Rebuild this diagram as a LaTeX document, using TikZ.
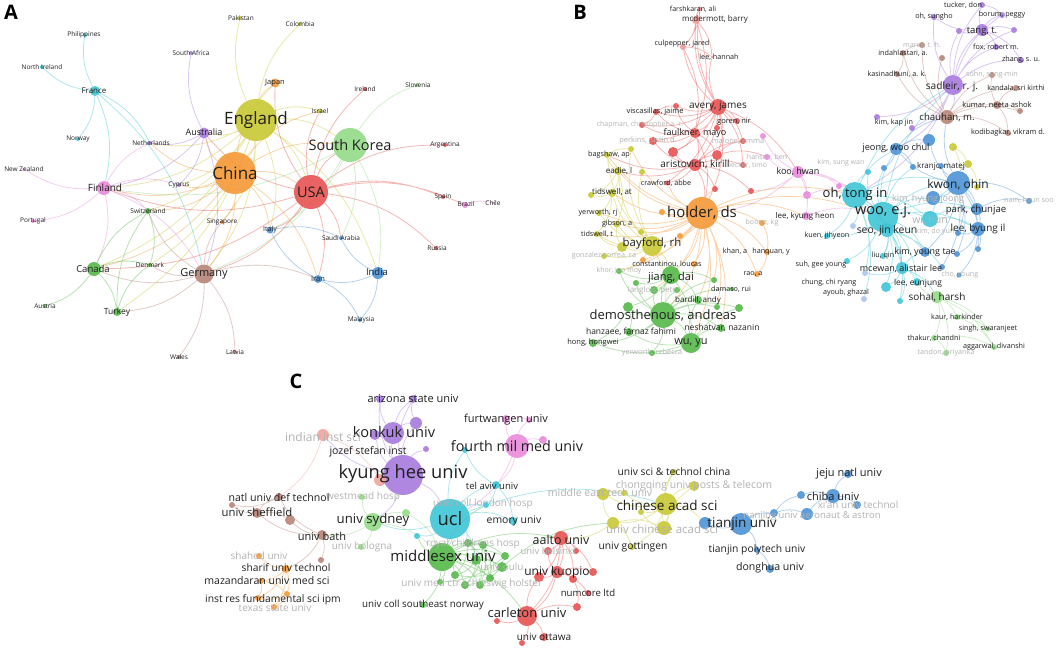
\documentclass[tikz,border=0pt]{standalone}
\usepackage{fontspec}
\setmainfont{Open Sans}
\usepackage{tikz}
\definecolor{cred}{RGB}{232,82,82}
\definecolor{cgreen}{RGB}{84,184,72}
\definecolor{cblue}{RGB}{74,146,214}
\definecolor{colive}{RGB}{200,200,52}
\definecolor{cpurple}{RGB}{166,122,222}
\definecolor{ccyan}{RGB}{62,196,214}
\definecolor{corange}{RGB}{245,152,54}
\definecolor{cbrown}{RGB}{182,132,118}
\definecolor{cpink}{RGB}{232,138,218}
\definecolor{clgreen}{RGB}{148,218,134}
\definecolor{csalmon}{RGB}{242,164,158}
\definecolor{clblue}{RGB}{172,196,236}
\newcommand{\fsz}[1]{\fontsize{#1}{#1}\selectfont}
\pgfdeclarelayer{edges}
\pgfdeclarelayer{labels}
\pgfsetlayers{edges,main,labels}
\tikzset{dot/.style={circle,inner sep=0pt,draw=none,fill=#1,fill opacity=.9},
         lbl/.style={inner sep=0pt,text=black!88},
         faded/.style={inner sep=0pt,text=black!30},
         link/.style={draw=#1,draw opacity=.42,line width=.8pt,bend left=18},
         panel/.style={inner sep=0pt,font=\bfseries\fsz{20}}}

\begin{document}
\begin{tikzpicture}[x=1pt,y=-1pt]
  \useasboundingbox (0,0) rectangle (1059,648);
  % Panel letters
  \node[panel] (pa) at (11,12) {A};
  \node[panel] (pb) at (580,12) {B};
  \node[panel] (pc) at (296,381) {C};

  % ===== A: countries
  \node[dot=colive,minimum size=42pt] (eng) at (256,120) {};
  \node[dot=corange,minimum size=42pt] (chn) at (235,173) {};
  \node[dot=cred,minimum size=34pt] (usa) at (311,192) {};
  \node[dot=clgreen,minimum size=34pt] (kor) at (350,145) {};
  \node[dot=cbrown,minimum size=19pt] (ger) at (204,274) {};
  \node[dot=cpink,minimum size=14pt] (fin) at (104,188) {};
  \node[dot=cgreen,minimum size=14pt] (can) at (94,269) {};
  \node[dot=ccyan,minimum size=10pt] (fra) at (95,91) {};
  \node[dot=cpurple,minimum size=11pt] (aus) at (204,133) {};
  \node[dot=cblue,minimum size=12pt] (ind) at (378,273) {};
  \node[dot=cgreen,minimum size=8pt] (tur) at (117,312) {};
  \node[dot=corange,minimum size=9pt] (jpn) at (275,83) {};
  \node[dot=cblue,minimum size=8pt] (irn) at (318,279) {};
  \node[dot=cblue,minimum size=7pt] (ita) at (270,230) {};
  \node[dot=ccyan,minimum size=4pt] (phl) at (85,35) {};
  \node[dot=ccyan,minimum size=4pt] (nir) at (42,67) {};
  \node[dot=cpurple,minimum size=4pt] (zaf) at (191,53) {};
  \node[dot=ccyan,minimum size=4pt] (nor) at (78,139) {};
  \node[dot=cpurple,minimum size=4pt] (nld) at (150,143) {};
  \node[dot=cpink,minimum size=3pt] (nzl) at (24,169) {};
  \node[dot=cpurple,minimum size=4pt] (cyp) at (179,185) {};
  \node[dot=cgreen,minimum size=6pt] (che) at (148,211) {};
  \node[dot=cpink,minimum size=4pt] (prt) at (33,221) {};
  \node[dot=corange,minimum size=4pt] (sgp) at (222,222) {};
  \node[dot=cgreen,minimum size=4pt] (dnk) at (150,265) {};
  \node[dot=cgreen,minimum size=4pt] (aut) at (45,306) {};
  \node[dot=cbrown,minimum size=4pt] (wal) at (179,357) {};
  \node[dot=cbrown,minimum size=4pt] (lva) at (235,352) {};
  \node[dot=colive,minimum size=4pt] (pak) at (240,18) {};
  \node[dot=colive,minimum size=4pt] (col) at (300,24) {};
  \node[dot=colive,minimum size=5pt] (isr) at (320,111) {};
  \node[dot=cred,minimum size=4pt] (irl) at (365,89) {};
  \node[dot=clgreen,minimum size=4pt] (svn) at (417,85) {};
  \node[dot=cred,minimum size=4pt] (arg) at (445,145) {};
  \node[dot=cred,minimum size=4pt] (esp) at (443,197) {};
  \node[dot=cpink,minimum size=6pt] (bra) at (465,205) {};
  \node[dot=cpink,minimum size=3pt] (chl) at (493,203) {};
  \node[dot=cred,minimum size=4pt] (rus) at (436,248) {};
  \node[dot=cblue,minimum size=4pt] (sau) at (341,238) {};
  \node[dot=cblue,minimum size=4pt] (mys) at (360,320) {};

  % ===== B: authors
  % red
  \node[dot=cred!60,minimum size=5pt] (fars) at (700,9) {};
  \node[dot=cred!60,minimum size=8pt] (mcde) at (696,20) {};
  \node[dot=cred!60,minimum size=6pt] (culp) at (683,47) {};
  \node[dot=cred!60,minimum size=3pt] (leeh) at (712,57) {};
  \node[dot=cred,minimum size=16pt] (aver) at (718,107) {};
  \node[dot=cred,minimum size=6pt] (r1) at (676,106) {};
  \node[dot=cred,minimum size=6pt] (visc) at (656,112) {};
  \node[dot=cred,minimum size=6pt] (gore) at (737,121) {};
  \node[dot=cred,minimum size=6pt] (r2) at (717,128) {};
  \node[dot=cred,minimum size=6pt] (chap) at (642,125) {};
  \node[dot=cred,minimum size=10pt] (faul) at (695,133) {};
  \node[dot=cred,minimum size=8pt] (perk) at (653,141) {};
  \node[dot=cred,minimum size=6pt] (malo) at (743,141) {};
  \node[dot=cred,minimum size=10pt] (r3) at (673,152) {};
  \node[dot=cred,minimum size=10pt] (r4) at (717,155) {};
  \node[dot=cred,minimum size=12pt] (aris) at (695,165) {};
  \node[dot=cred,minimum size=6pt] (beck) at (743,165) {};
  \node[dot=cred,minimum size=5pt] (craw) at (667,183) {};
  \node[dot=cred,minimum size=6pt] (r5) at (715,189) {};
  \node[dot=cred,minimum size=6pt] (r6) at (751,191) {};
  % pink
  \node[dot=cpink,minimum size=6pt] (hans) at (767,157) {};
  \node[dot=cpink,minimum size=6pt] (pk1) at (763,136) {};
  \node[dot=cpink,minimum size=12pt] (koo) at (798,172) {};
  \node[dot=cpink,minimum size=6pt] (ksw) at (839,186) {};
  \node[dot=cpink,minimum size=8pt] (ksa) at (807,195) {};
  \node[dot=cpink,minimum size=8pt] (leek) at (806,216) {};
  % yellow
  \node[dot=colive,minimum size=6pt] (bags) at (607,155) {};
  \node[dot=colive,minimum size=6pt] (y1) at (631,149) {};
  \node[dot=colive,minimum size=8pt] (eadi) at (618,171) {};
  \node[dot=colive,minimum size=6pt] (y2) at (642,172) {};
  \node[dot=colive,minimum size=8pt] (tids) at (612,193) {};
  \node[dot=colive,minimum size=6pt] (y3) at (591,195) {};
  \node[dot=colive,minimum size=6pt] (yerw) at (599,213) {};
  \node[dot=colive,minimum size=7pt] (gibs) at (617,224) {};
  \node[dot=colive,minimum size=6pt] (y4) at (641,232) {};
  \node[dot=colive,minimum size=6pt] (tidt) at (597,234) {};
  \node[dot=colive,minimum size=20pt] (bayf) at (652,246) {};
  \node[dot=colive,minimum size=10pt] (y5) at (622,247) {};
  \node[dot=colive,minimum size=6pt] (gonz) at (604,256) {};
  % orange
  \node[dot=corange,minimum size=32pt] (hold) at (702,213) {};
  \node[dot=corange,minimum size=6pt] (o1) at (662,212) {};
  \node[dot=corange,minimum size=6pt] (o2) at (680,236) {};
  \node[dot=corange,minimum size=6pt] (cons) at (643,260) {};
  \node[dot=corange,minimum size=6pt] (o3) at (694,264) {};
  \node[dot=corange,minimum size=6pt] (boon) at (762,223) {};
  \node[dot=corange,minimum size=6pt] (hanq) at (767,252) {};
  \node[dot=corange,minimum size=6pt] (rao) at (757,274) {};
  % green
  \node[dot=cgreen,minimum size=6pt] (khor) at (619,271) {};
  \node[dot=cgreen,minimum size=6pt] (g1) at (636,283) {};
  \node[dot=cgreen,minimum size=18pt] (jian) at (671,275) {};
  \node[dot=cgreen,minimum size=8pt] (lang) at (654,290) {};
  \node[dot=cgreen,minimum size=6pt] (g2) at (677,290) {};
  \node[dot=cgreen,minimum size=6pt] (g3) at (714,280) {};
  \node[dot=cgreen,minimum size=4pt] (dama) at (732,289) {};
  \node[dot=cgreen,minimum size=8pt] (bard) at (698,300) {};
  \node[dot=cgreen,minimum size=10pt] (g4) at (628,307) {};
  \node[dot=cgreen,minimum size=6pt] (g5) at (717,307) {};
  \node[dot=cgreen,minimum size=8pt] (g6) at (739,308) {};
  \node[dot=cgreen,minimum size=26pt] (demo) at (663,315) {};
  \node[dot=cgreen,minimum size=8pt] (hanz) at (629,332) {};
  \node[dot=cgreen,minimum size=8pt] (nesh) at (721,328) {};
  \node[dot=cgreen,minimum size=8pt] (hong) at (593,343) {};
  \node[dot=cgreen,minimum size=20pt] (wuyu) at (691,343) {};
  \node[dot=cgreen,minimum size=6pt] (yreb) at (652,353) {};
  % cyan
  \node[dot=ccyan,minimum size=26pt] (ohti) at (855,195) {};
  \node[dot=ccyan,minimum size=30pt] (wooe) at (883,217) {};
  \node[dot=ccyan,minimum size=14pt] (seoj) at (887,230) {};
  \node[dot=ccyan,minimum size=16pt] (wihu) at (930,219) {};
  \node[dot=ccyan,minimum size=6pt] (c1) at (868,172) {};
  \node[dot=ccyan,minimum size=6pt] (kuen) at (827,236) {};
  \node[dot=ccyan,minimum size=6pt] (liuq) at (883,256) {};
  \node[dot=ccyan,minimum size=6pt] (suhg) at (847,261) {};
  \node[dot=ccyan,minimum size=12pt] (mcew) at (902,268) {};
  \node[dot=ccyan,minimum size=8pt] (eunj) at (917,282) {};
  \node[dot=ccyan,minimum size=10pt] (c2) at (886,287) {};
  \node[dot=ccyan,minimum size=6pt] (song) at (900,301) {};
  \node[dot=clblue,minimum size=6pt] (lb1) at (853,226) {};
  \node[dot=clblue,minimum size=6pt] (chun) at (865,273) {};
  \node[dot=clblue,minimum size=6pt] (ayou) at (864,299) {};
  % blue
  \node[dot=cblue,minimum size=12pt] (jeon) at (896,149) {};
  \node[dot=cblue,minimum size=12pt] (b1) at (929,140) {};
  \node[dot=cblue,minimum size=6pt] (b2) at (884,168) {};
  \node[dot=cblue,minimum size=6pt] (b3) at (913,167) {};
  \node[dot=cblue,minimum size=6pt] (kran) at (941,166) {};
  \node[dot=cblue,minimum size=24pt] (kwon) at (958,183) {};
  \node[dot=cblue,minimum size=14pt] (khj) at (933,198) {};
  \node[dot=cblue,minimum size=12pt] (park) at (977,209) {};
  \node[dot=cblue,minimum size=14pt] (lbyu) at (978,229) {};
  \node[dot=cblue,minimum size=6pt] (nam) at (1029,201) {};
  \node[dot=cblue,minimum size=6pt] (b4) at (958,233) {};
  \node[dot=cblue,minimum size=6pt] (b5) at (978,249) {};
  \node[dot=cblue,minimum size=10pt] (kyt) at (925,252) {};
  \node[dot=cblue,minimum size=6pt] (b6) at (957,254) {};
  \node[dot=cblue,minimum size=6pt] (b7) at (942,267) {};
  \node[dot=cblue,minimum size=5pt] (cho) at (959,275) {};
  \node[dot=colive,minimum size=8pt] (y6) at (953,147) {};
  \node[dot=colive,minimum size=8pt] (y7) at (968,164) {};
  \node[dot=colive,minimum size=6pt] (y8) at (977,187) {};
  % purple
  \node[dot=cpurple,minimum size=6pt] (tuck) at (982,5) {};
  \node[dot=cpurple,minimum size=6pt] (ohsu) at (934,17) {};
  \node[dot=cpurple,minimum size=6pt] (boru) at (1002,15) {};
  \node[dot=cpurple,minimum size=6pt] (p1) at (959,31) {};
  \node[dot=cpurple,minimum size=12pt] (tang) at (982,30) {};
  \node[dot=cpurple,minimum size=6pt] (p2) at (1014,30) {};
  \node[dot=cpurple,minimum size=6pt] (fox) at (996,47) {};
  \node[dot=cpurple,minimum size=6pt] (zhan) at (1021,60) {};
  \node[dot=cpurple,minimum size=20pt] (sadl) at (953,85) {};
  \node[dot=cpurple,minimum size=6pt] (kimk) at (877,117) {};
  \node[dot=cpurple,minimum size=6pt] (p3) at (912,128) {};
  % brown
  \node[dot=cbrown,minimum size=6pt] (mare) at (922,45) {};
  \node[dot=cbrown,minimum size=6pt] (inda) at (903,53) {};
  \node[dot=cbrown,minimum size=6pt] (br1) at (942,58) {};
  \node[dot=cbrown,minimum size=6pt] (kasi) at (897,74) {};
  \node[dot=cbrown,minimum size=6pt] (sohn) at (992,75) {};
  \node[dot=cbrown,minimum size=6pt] (kand) at (1016,88) {};
  \node[dot=cbrown,minimum size=8pt] (kuma) at (997,105) {};
  \node[dot=cbrown,minimum size=6pt] (br2) at (1020,111) {};
  \node[dot=cbrown,minimum size=14pt] (chau) at (947,117) {};
  \node[dot=cbrown,minimum size=6pt] (kodi) at (1008,133) {};
  % light green
  \node[dot=clgreen,minimum size=12pt] (soha) at (937,297) {};
  \node[dot=clgreen,minimum size=6pt] (kaur) at (957,317) {};
  \node[dot=clgreen,minimum size=5pt] (sing) at (988,329) {};
  \node[dot=clgreen,minimum size=6pt] (thak) at (934,338) {};
  \node[dot=clgreen,minimum size=6pt] (agga) at (994,347) {};
  \node[dot=clgreen,minimum size=6pt] (tand) at (946,353) {};

  % ===== C: institutions
  \node[dot=cpurple,minimum size=8pt] (az1) at (380,399) {};
  \node[dot=cpurple,minimum size=8pt] (ariz) at (413,399) {};
  \node[dot=cpurple,minimum size=12pt] (kp1) at (416,423) {};
  \node[dot=cpurple,minimum size=22pt] (konk) at (393,433) {};
  \node[dot=cpurple,minimum size=10pt] (kp2) at (375,435) {};
  \node[dot=cpurple,minimum size=6pt] (kp3) at (426,449) {};
  \node[dot=cpurple,minimum size=40pt] (kyun) at (403,475) {};
  \node[dot=csalmon,minimum size=12pt] (inst) at (323,435) {};
  \node[dot=csalmon,minimum size=12pt] (sl1) at (380,480) {};
  \node[dot=cpink,minimum size=8pt] (furt) at (506,419) {};
  \node[dot=cpink,minimum size=6pt] (pk2) at (529,420) {};
  \node[dot=cpink,minimum size=24pt] (four) at (517,446) {};
  \node[dot=cpink,minimum size=8pt] (pk3) at (543,440) {};
  \node[dot=ccyan,minimum size=6pt] (cy1) at (465,450) {};
  \node[dot=ccyan,minimum size=8pt] (tela) at (496,485) {};
  \node[dot=ccyan,minimum size=6pt] (uclh) at (486,505) {};
  \node[dot=ccyan,minimum size=40pt] (ucl) at (450,519) {};
  \node[dot=ccyan,minimum size=8pt] (emor) at (513,521) {};
  \node[dot=ccyan,minimum size=6pt] (roya) at (417,536) {};
  \node[dot=clgreen,minimum size=6pt] (west) at (362,497) {};
  \node[dot=clgreen,minimum size=8pt] (lg1) at (406,513) {};
  \node[dot=clgreen,minimum size=18pt] (syd) at (373,522) {};
  \node[dot=clgreen,minimum size=6pt] (bolo) at (361,547) {};
  \node[dot=cgreen,minimum size=28pt] (midd) at (442,557) {};
  \node[dot=cgreen,minimum size=8pt] (gc1) at (468,543) {};
  \node[dot=cgreen,minimum size=8pt] (gc2) at (483,545) {};
  \node[dot=cgreen,minimum size=8pt] (gc3) at (505,556) {};
  \node[dot=cgreen,minimum size=10pt] (gc4) at (476,560) {};
  \node[dot=cgreen,minimum size=8pt] (gc5) at (490,578) {};
  \node[dot=cgreen,minimum size=10pt] (oulu) at (502,567) {};
  \node[dot=cgreen,minimum size=8pt] (gc6) at (455,575) {};
  \node[dot=cgreen,minimum size=6pt] (gc7) at (440,582) {};
  \node[dot=cgreen,minimum size=8pt] (gc8) at (465,585) {};
  \node[dot=cgreen,minimum size=8pt] (gc9) at (480,585) {};
  \node[dot=cgreen,minimum size=6pt] (sout) at (423,605) {};
  \node[dot=cbrown,minimum size=6pt] (br3) at (232,505) {};
  \node[dot=cbrown,minimum size=8pt] (natl) at (279,497) {};
  \node[dot=cbrown,minimum size=10pt] (shef) at (257,513) {};
  \node[dot=cbrown,minimum size=10pt] (br4) at (290,520) {};
  \node[dot=cbrown,minimum size=10pt] (bath) at (322,535) {};
  \node[dot=cbrown,minimum size=6pt] (br5) at (321,560) {};
  \node[dot=corange,minimum size=6pt] (shah) at (259,556) {};
  \node[dot=corange,minimum size=8pt] (shar) at (286,569) {};
  \node[dot=corange,minimum size=6pt] (maza) at (261,581) {};
  \node[dot=corange,minimum size=6pt] (ipm1) at (287,594) {};
  \node[dot=corange,minimum size=6pt] (ipm2) at (258,598) {};
  \node[dot=corange,minimum size=6pt] (texa) at (274,607) {};
  \node[dot=colive,minimum size=6pt] (usci) at (674,472) {};
  \node[dot=colive,minimum size=10pt] (chon) at (694,486) {};
  \node[dot=colive,minimum size=12pt] (mide) at (603,494) {};
  \node[dot=colive,minimum size=6pt] (yl1) at (624,493) {};
  \node[dot=colive,minimum size=22pt] (chin) at (666,504) {};
  \node[dot=colive,minimum size=6pt] (yl2) at (641,512) {};
  \node[dot=colive,minimum size=12pt] (yl3) at (613,523) {};
  \node[dot=colive,minimum size=14pt] (ucas) at (664,528) {};
  \node[dot=colive,minimum size=6pt] (gott) at (632,547) {};
  \node[dot=cred,minimum size=14pt] (aalt) at (561,538) {};
  \node[dot=cred,minimum size=8pt] (hel1) at (548,551) {};
  \node[dot=cred,minimum size=6pt] (hel2) at (576,551) {};
  \node[dot=cred,minimum size=10pt] (rd1) at (539,577) {};
  \node[dot=cred,minimum size=12pt] (kuop) at (557,572) {};
  \node[dot=cred,minimum size=8pt] (rd2) at (573,579) {};
  \node[dot=cred,minimum size=8pt] (rd3) at (593,572) {};
  \node[dot=cred,minimum size=6pt] (numc) at (588,593) {};
  \node[dot=cred,minimum size=8pt] (rd4) at (577,607) {};
  \node[dot=cred,minimum size=6pt] (rd6) at (497,621) {};
  \node[dot=cred,minimum size=20pt] (carl) at (527,616) {};
  \node[dot=cred,minimum size=8pt] (otta) at (544,637) {};
  \node[dot=cred,minimum size=6pt] (rd5) at (522,643) {};
  \node[dot=cblue,minimum size=12pt] (bl1) at (705,523) {};
  \node[dot=cblue,minimum size=22pt] (tian) at (741,524) {};
  \node[dot=cblue,minimum size=8pt] (bl2) at (774,513) {};
  \node[dot=cblue,minimum size=8pt] (bl3) at (801,495) {};
  \node[dot=cblue,minimum size=12pt] (bl4) at (807,514) {};
  \node[dot=cblue,minimum size=14pt] (chib) at (833,496) {};
  \node[dot=cblue,minimum size=8pt] (jeju) at (848,474) {};
  \node[dot=cblue,minimum size=8pt] (xian) at (857,505) {};
  \node[dot=cblue,minimum size=6pt] (tpol) at (757,550) {};
  \node[dot=cblue,minimum size=8pt] (dong) at (770,569) {};

  \begin{pgfonlayer}{edges}
    % A links
    \draw[link=colive] (eng) to (pak) (eng) to (col) (eng) to (jpn) (eng) to (chn) (eng) to (usa) (eng) to (kor) (eng) to (aus) (eng) to (isr) (eng) to (nld) (eng) to (fin) (eng) to (ger) (eng) to (che) (eng) to (can) (eng) to (ita) (eng) to (sgp) (eng) to (cyp) (eng) to (dnk) (eng) to (ind) (eng) to (tur);
    \draw[link=corange] (chn) to (usa) (chn) to (aus) (chn) to (fin) (chn) to (ger) (chn) to (sgp) (chn) to (can) (chn) to (jpn) (chn) to (ita) (chn) to (nld) (chn) to (che) (chn) to (irn) (chn) to (kor) (chn) to (cyp) (chn) to (isr);
    \draw[link=cred] (usa) to (irl) (usa) to (arg) (usa) to (esp) (usa) to (bra) (usa) to (rus) (usa) to (ger) (usa) to (irn) (usa) to (jpn) (usa) to (kor) (usa) to (isr) (usa) to (aus) (usa) to (fin) (usa) to (ita) (usa) to (sau) (usa) to (can);
    \draw[link=clgreen] (kor) to (svn) (kor) to (ind) (kor) to (ger) (kor) to (ita) (kor) to (fin) (kor) to (sau);
    \draw[link=ccyan] (fra) to (phl) (fra) to (nir) (fra) to (nor) (fra) to (fin) (fra) to (ger) (fra) to (nld);
    \draw[link=cpurple] (aus) to (zaf) (aus) to (nld) (aus) to (fin) (aus) to (cyp) (aus) to (ger);
    \draw[link=cpink] (fin) to (nzl) (fin) to (prt) (fin) to (ger) (fin) to (che) (fin) to (nld) (fin) to (cyp) (fin) to (can) (bra) to (chl);
    \draw[link=cbrown] (ger) to (wal) (ger) to (lva) (ger) to (can) (ger) to (che) (ger) to (dnk) (ger) to (irn) (ger) to (sgp) (ger) to (tur);
    \draw[link=cgreen] (can) to (aut) (can) to (tur) (can) to (che) (can) to (dnk) (tur) to (dnk) (tur) to (che) (che) to (dnk);
    \draw[link=cblue] (ind) to (sau) (ind) to (mys) (ind) to (irn) (irn) to (mys) (irn) to (ita) (ita) to (sau);
    % B links
    \draw[link=cred] (aver) to (fars) (aver) to (mcde) (aver) to (culp) (aver) to (leeh) (aver) to (visc) (aver) to (gore) (aver) to (chap) (aver) to (faul) (aver) to (perk) (aver) to (malo) (aver) to (aris) (aver) to (r3) (aver) to (r4) (aver) to (beck) (aver) to (craw) (aver) to (hold) (aver) to (r1) (aver) to (r2) (aver) to (koo);
    \draw[link=cred] (mcde) to (fars) (mcde) to (culp) (mcde) to (leeh) (mcde) to (faul) (culp) to (leeh) (culp) to (faul) (fars) to (culp) (faul) to (aris) (faul) to (visc) (faul) to (chap) (faul) to (perk) (faul) to (hold) (faul) to (r3) (faul) to (r4) (faul) to (r1);
    \draw[link=cred] (aris) to (hold) (aris) to (r3) (aris) to (craw) (aris) to (perk) (aris) to (beck) (aris) to (malo) (aris) to (r4) (aris) to (r5) (aris) to (r6) (aris) to (bags) (aris) to (eadi) (visc) to (chap) (visc) to (r1) (r4) to (malo) (r4) to (hans);
    \draw[link=cpink] (koo) to (ohti) (koo) to (ksw) (koo) to (ksa) (koo) to (leek) (koo) to (hans) (koo) to (pk1) (koo) to (wooe) (koo) to (hold) (koo) to (r6) (ksw) to (ohti) (ksa) to (ohti) (leek) to (wooe);
    \draw[link=corange] (hold) to (bayf) (hold) to (eadi) (hold) to (tids) (hold) to (bags) (hold) to (yerw) (hold) to (gibs) (hold) to (tidt) (hold) to (jian) (hold) to (demo) (hold) to (wuyu) (hold) to (bard) (hold) to (lang) (hold) to (craw) (hold) to (o1) (hold) to (o2) (hold) to (cons) (hold) to (o3) (hold) to (boon) (hold) to (hanq) (hold) to (rao) (hold) to (ohti) (hold) to (wooe) (hold) to (nesh) (hold) to (khor) (hold) to (r5) (hold) to (leek) (hold) to (y1) (hold) to (y4) (hold) to (g3) (hold) to (g5) (boon) to (hanq) (hanq) to (rao);
    \draw[link=colive] (bayf) to (bags) (bayf) to (eadi) (bayf) to (tids) (bayf) to (yerw) (bayf) to (gibs) (bayf) to (tidt) (bayf) to (gonz) (bayf) to (jian) (bayf) to (demo) (bayf) to (y1) (bayf) to (y2) (bayf) to (y4) (bayf) to (y5) (bayf) to (khor) (eadi) to (bags) (eadi) to (tids) (eadi) to (gibs) (eadi) to (y3) (tids) to (yerw) (tids) to (tidt) (tids) to (y3) (y5) to (gonz) (y5) to (tidt) (y5) to (gibs) (bags) to (y1);
    \draw[link=cgreen] (demo) to (jian) (demo) to (wuyu) (demo) to (lang) (demo) to (bard) (demo) to (hanz) (demo) to (nesh) (demo) to (hong) (demo) to (yreb) (demo) to (khor) (demo) to (g1) (demo) to (g2) (demo) to (g3) (demo) to (g4) (demo) to (g5) (demo) to (g6) (demo) to (dama) (jian) to (wuyu) (jian) to (lang) (jian) to (bard) (jian) to (g4) (jian) to (g1) (jian) to (khor) (jian) to (g3) (wuyu) to (nesh) (wuyu) to (hanz) (wuyu) to (yreb) (wuyu) to (bard) (wuyu) to (g6) (wuyu) to (hong) (g4) to (hong) (g4) to (hanz);
    \draw[link=ccyan] (wooe) to (ohti) (wooe) to (seoj) (wooe) to (wihu) (wooe) to (kuen) (wooe) to (liuq) (wooe) to (suhg) (wooe) to (mcew) (wooe) to (eunj) (wooe) to (c2) (wooe) to (song) (wooe) to (kwon) (wooe) to (jeon) (wooe) to (khj) (wooe) to (park) (wooe) to (lbyu) (wooe) to (kyt) (wooe) to (sadl) (wooe) to (c1) (wooe) to (b2) (wooe) to (b3);
    \draw[link=ccyan] (ohti) to (seoj) (ohti) to (jeon) (ohti) to (kwon) (ohti) to (wihu) (ohti) to (mcew) (ohti) to (kuen) (ohti) to (sadl) (ohti) to (chun) (ohti) to (c1) (ohti) to (lb1) (ohti) to (ayou) (mcew) to (eunj) (mcew) to (c2) (mcew) to (soha) (mcew) to (song) (mcew) to (kyt) (mcew) to (chun) (seoj) to (liuq) (seoj) to (mcew) (seoj) to (kyt) (seoj) to (b7) (wihu) to (kwon) (wihu) to (lbyu) (wihu) to (park);
    \draw[link=cblue] (kwon) to (jeon) (kwon) to (khj) (kwon) to (park) (kwon) to (lbyu) (kwon) to (b1) (kwon) to (kran) (kwon) to (nam) (kwon) to (b4) (kwon) to (b5) (kwon) to (b6) (kwon) to (b7) (kwon) to (kyt) (kwon) to (chau) (kwon) to (y7) (park) to (lbyu) (park) to (nam) (lbyu) to (b4) (lbyu) to (b5) (lbyu) to (b6) (lbyu) to (cho) (jeon) to (b1) (jeon) to (b2) (jeon) to (b3) (jeon) to (chau);
    \draw[link=cpurple] (sadl) to (tang) (sadl) to (tuck) (sadl) to (ohsu) (sadl) to (boru) (sadl) to (fox) (sadl) to (zhan) (sadl) to (p1) (sadl) to (p2) (sadl) to (chau) (sadl) to (kimk) (sadl) to (p3) (sadl) to (jeon) (sadl) to (ohti) (tang) to (tuck) (tang) to (ohsu) (tang) to (boru) (tang) to (p1) (tang) to (p2) (tang) to (fox) (tang) to (zhan) (tuck) to (boru);
    \draw[link=cbrown] (chau) to (mare) (chau) to (inda) (chau) to (br1) (chau) to (kasi) (chau) to (sohn) (chau) to (kand) (chau) to (kuma) (chau) to (br2) (chau) to (kodi) (kuma) to (kand) (kuma) to (kodi) (kuma) to (br2) (kuma) to (sohn) (inda) to (mare) (inda) to (kasi);
    \draw[link=clgreen] (soha) to (kaur) (soha) to (sing) (soha) to (thak) (soha) to (agga) (soha) to (tand) (soha) to (eunj) (kaur) to (sing) (kaur) to (agga) (thak) to (agga) (thak) to (tand);
    \draw[link=colive] (y6) to (y7) (y6) to (kwon) (y7) to (y8);
    % C links
    \draw[link=cpurple] (kyun) to (konk) (kyun) to (az1) (kyun) to (ariz) (kyun) to (kp1) (kyun) to (kp2) (kyun) to (kp3) (kyun) to (ucl) (kyun) to (inst) (kyun) to (sl1) (kyun) to (syd) (konk) to (az1) (konk) to (ariz) (konk) to (kp1) (konk) to (kp2) (kp1) to (ariz);
    \draw[link=csalmon] (inst) to (sl1) (inst) to (natl);
    \draw[link=cpink] (four) to (furt) (four) to (pk2) (four) to (pk3) (four) to (ucl) (four) to (tela) (furt) to (pk2);
    \draw[link=ccyan] (ucl) to (tela) (ucl) to (cy1) (ucl) to (uclh) (ucl) to (emor) (ucl) to (roya) (ucl) to (midd) (ucl) to (syd) (ucl) to (gc1) (ucl) to (gc4) (ucl) to (chin) (tela) to (uclh) (tela) to (emor) (tela) to (cy1);
    \draw[link=clgreen] (syd) to (lg1) (syd) to (west) (syd) to (bolo) (syd) to (bath) (syd) to (midd) (lg1) to (midd);
    \draw[link=cgreen] (midd) to (gc1) (midd) to (gc2) (midd) to (gc3) (midd) to (gc4) (midd) to (gc5) (midd) to (gc6) (midd) to (gc7) (midd) to (gc8) (midd) to (gc9) (midd) to (oulu) (midd) to (sout) (midd) to (uclh) (midd) to (aalt) (midd) to (carl) (midd) to (roya);
    \draw[link=cgreen] (gc1) to (gc3) (gc1) to (gc4) (gc1) to (gc5) (gc1) to (gc6) (gc2) to (gc4) (gc2) to (gc5) (gc2) to (gc8) (gc2) to (gc9) (gc4) to (gc6) (gc4) to (gc8) (gc4) to (gc9) (gc4) to (oulu) (gc3) to (gc9) (gc3) to (gc7) (oulu) to (gc8) (oulu) to (gc6) (oulu) to (yl3);
    \draw[link=cbrown] (bath) to (natl) (bath) to (shef) (bath) to (br4) (bath) to (br5) (bath) to (shar) (shef) to (natl) (shef) to (br3) (shef) to (br4) (natl) to (br3);
    \draw[link=corange] (shar) to (shah) (shar) to (maza) (shar) to (ipm1) (shar) to (ipm2) (shar) to (texa) (maza) to (ipm1) (maza) to (ipm2) (ipm1) to (ipm2) (ipm1) to (texa);
    \draw[link=colive] (chin) to (usci) (chin) to (chon) (chin) to (mide) (chin) to (yl1) (chin) to (yl2) (chin) to (yl3) (chin) to (ucas) (chin) to (gott) (chin) to (bl1) (yl3) to (mide) (yl3) to (ucas) (yl3) to (gott) (yl3) to (aalt) (ucas) to (usci) (ucas) to (chon) (ucas) to (yl2) (mide) to (yl1);
    \draw[link=cred] (aalt) to (hel1) (aalt) to (hel2) (aalt) to (kuop) (aalt) to (rd1) (aalt) to (rd2) (aalt) to (rd3) (aalt) to (carl) (kuop) to (rd1) (kuop) to (rd2) (kuop) to (rd3) (kuop) to (numc) (kuop) to (carl) (kuop) to (hel1) (carl) to (otta) (carl) to (rd5) (carl) to (rd6) (carl) to (rd4) (carl) to (rd1) (rd2) to (rd4);
    \draw[link=cblue] (tian) to (bl1) (tian) to (bl2) (tian) to (tpol) (bl2) to (bl3) (bl2) to (bl4) (bl3) to (chib) (bl4) to (chib) (chib) to (jeju) (chib) to (xian) (tpol) to (dong);
  \end{pgfonlayer}

  \begin{pgfonlayer}{labels}
    % A labels
    \node[lbl,font=\fsz{6.5}] (phl-t) at (84,35) {Philippines};
    \node[lbl,font=\fsz{6.5}] (nir-t) at (42,67) {North Ireland};
    \node[lbl,font=\fsz{8}] (fra-t) at (94,91) {France};
    \node[lbl,font=\fsz{6.5}] (zaf-t) at (191,53) {South Africa};
    \node[lbl,font=\fsz{9}] (aus-t) at (204,132) {Australia};
    \node[lbl,font=\fsz{6.5}] (nor-t) at (78,139) {Norway};
    \node[lbl,font=\fsz{6.5}] (nld-t) at (151,143) {Netherlands};
    \node[lbl,font=\fsz{6.5}] (nzl-t) at (24,169) {New Zealand};
    \node[lbl,font=\fsz{10}] (fin-t) at (105,188) {Finland};
    \node[lbl,font=\fsz{6.5}] (cyp-t) at (179,185) {Cyprus};
    \node[lbl,font=\fsz{6.5}] (che-t) at (148,211) {Switzerland};
    \node[lbl,font=\fsz{6.5}] (prt-t) at (33,221) {Portugal};
    \node[lbl,font=\fsz{6.5}] (sgp-t) at (222,222) {Singapore};
    \node[lbl,font=\fsz{9.5}] (can-t) at (93,269) {Canada};
    \node[lbl,font=\fsz{6.5}] (dnk-t) at (150,265) {Denmark};
    \node[lbl,font=\fsz{11}] (ger-t) at (204,274) {Germany};
    \node[lbl,font=\fsz{6.5}] (aut-t) at (45,306) {Austria};
    \node[lbl,font=\fsz{8.5}] (tur-t) at (117,312) {Turkey};
    \node[lbl,font=\fsz{6.5}] (wal-t) at (179,357) {Wales};
    \node[lbl,font=\fsz{6.5}] (lva-t) at (235,352) {Latvia};
    \node[lbl,font=\fsz{6.5}] (pak-t) at (241,18) {Pakistan};
    \node[lbl,font=\fsz{6.5}] (col-t) at (300,24) {Colombia};
    \node[lbl,font=\fsz{7.5}] (jpn-t) at (275,83) {Japan};
    \node[lbl,font=\fsz{17}] (eng-t) at (256,120) {England};
    \node[lbl,font=\fsz{17}] (chn-t) at (235,173) {China};
    \node[lbl,font=\fsz{6.5}] (irl-t) at (365,89) {Ireland};
    \node[lbl,font=\fsz{6.5}] (svn-t) at (418,85) {Slovenia};
    \node[lbl,font=\fsz{6.5}] (isr-t) at (320,111) {Israel};
    \node[lbl,font=\fsz{14.5}] (kor-t) at (350,145) {South Korea};
    \node[lbl,font=\fsz{6.5}] (arg-t) at (445,145) {Argentina};
    \node[lbl,font=\fsz{14.5}] (usa-t) at (311,192) {USA};
    \node[lbl,font=\fsz{6.5}] (esp-t) at (443,197) {Spain};
    \node[lbl,font=\fsz{6.5}] (bra-t) at (466,204) {Brazil};
    \node[lbl,font=\fsz{6.5}] (chl-t) at (493,203) {Chile};
    \node[lbl,font=\fsz{7}] (ita-t) at (270,230) {Italy};
    \node[lbl,font=\fsz{6.5}] (sau-t) at (341,238) {Saudi Arabia};
    \node[lbl,font=\fsz{6.5}] (rus-t) at (437,248) {Russia};
    \node[lbl,font=\fsz{9.5}] (ind-t) at (377,272) {India};
    \node[lbl,font=\fsz{7.5}] (irn-t) at (318,279) {Iran};
    \node[lbl,font=\fsz{6.5}] (mys-t) at (361,320) {Malaysia};
    % B labels
    \node[lbl,font=\fsz{7}] (fars-t) at (693,9) {farshkaran, ali};
    \node[lbl,font=\fsz{8}] (mcde-t) at (715,19) {mcdermott, barry};
    \node[lbl,font=\fsz{7.2}] (culp-t) at (682,44) {culpepper, jared};
    \node[lbl,font=\fsz{7.2}] (leeh-t) at (719,57) {lee, hannah};
    \node[lbl,font=\fsz{10}] (aver-t) at (718,106) {avery, james};
    \node[lbl,font=\fsz{7.5}] (visc-t) at (655,112) {viscasillas, jaime};
    \node[lbl,font=\fsz{7.5}] (gore-t) at (734,122) {goren, nir};
    \node[faded,font=\fsz{7}] (chap-t) at (640,125) {chapman, christopher a. r.};
    \node[lbl,font=\fsz{9}] (faul-t) at (695,133) {faulkner, mayo};
    \node[faded,font=\fsz{7.5}] (perk-t) at (648,141) {perkins, justin d.};
    \node[faded,font=\fsz{7.5}] (malo-t) at (738,141) {malone, emma};
    \node[faded,font=\fsz{7}] (hans-t) at (767,157) {hansen, ben};
    \node[lbl,font=\fsz{10}] (aris-t) at (695,164) {aristovich, kirill};
    \node[faded,font=\fsz{7}] (beck-t) at (747,165) {becker, timo};
    \node[lbl,font=\fsz{7.2}] (craw-t) at (666,183) {crawford, abbe};
    \node[lbl,font=\fsz{7.2}] (bags-t) at (609,155) {bagshaw, ap};
    \node[lbl,font=\fsz{8}] (eadi-t) at (619,171) {eadie, l};
    \node[lbl,font=\fsz{8}] (tids-t) at (612,192) {tidswell, at};
    \node[lbl,font=\fsz{7.2}] (yerw-t) at (598,213) {yerworth, rj};
    \node[lbl,font=\fsz{7.2}] (gibs-t) at (617,224) {gibson, a};
    \node[lbl,font=\fsz{7.2}] (tidt-t) at (597,234) {tidswell, t};
    \node[lbl,font=\fsz{11.4}] (bayf-t) at (652,244) {bayford, rh};
    \node[faded,font=\fsz{7.2}] (gonz-t) at (604,256) {gonzalez-correa, ca};
    \node[lbl,font=\fsz{15}] (hold-t) at (702,213) {holder, ds};
    \node[lbl,font=\fsz{7.2}] (cons-t) at (667,264) {constantinou, loucas};
    \node[faded,font=\fsz{7.2}] (boon-t) at (762,223) {boone, kg};
    \node[lbl,font=\fsz{7.2}] (khan-t) at (735,251) {khan, a};
    \node[lbl,font=\fsz{7.2}] (hanq-t) at (771,252) {hanquan, y};
    \node[lbl,font=\fsz{7.2}] (rao-t) at (753,274) {rao, a};
    \node[lbl,font=\fsz{8}] (leek-t) at (805,216) {lee, kyung heon};
    \node[lbl,font=\fsz{9}] (koo-t) at (798,172) {koo, hwan};
    \node[faded,font=\fsz{7}] (ksw-t) at (841,163) {kim, sung wan};
    \node[faded,font=\fsz{7}] (khor-t) at (619,271) {khor, joo moy};
    \node[lbl,font=\fsz{11}] (jian-t) at (671,278) {jiang, dai};
    \node[faded,font=\fsz{8}] (lang-t) at (654,290) {langlois, peter};
    \node[lbl,font=\fsz{7.2}] (dama-t) at (731,289) {damaso, rui};
    \node[lbl,font=\fsz{8}] (bard-t) at (698,300) {bardill, andy};
    \node[lbl,font=\fsz{13}] (demo-t) at (663,315) {demosthenous, andreas};
    \node[lbl,font=\fsz{8.5}] (hanz-t) at (631,332) {hanzaee, farnaz fahimi};
    \node[lbl,font=\fsz{8.5}] (nesh-t) at (722,328) {neshatvar, nazanin};
    \node[lbl,font=\fsz{7.5}] (hong-t) at (593,343) {hong, hongwei};
    \node[lbl,font=\fsz{11}] (wuyu-t) at (691,343) {wu, yu};
    \node[faded,font=\fsz{7.2}] (yreb-t) at (652,353) {yerworth, rebecca};
    \node[lbl,font=\fsz{13}] (ohti-t) at (855,194) {oh, tong in};
    \node[faded,font=\fsz{9}] (khj-t) at (928,199) {kim, hyung joong};
    \node[lbl,font=\fsz{14.6}] (wooe-t) at (883,211) {woo, e.j.};
    \node[faded,font=\fsz{10.5}] (wihu-t) at (930,220) {wi, hun};
    \node[lbl,font=\fsz{10.4}] (seoj-t) at (887,231) {seo, jin keun};
    \node[faded,font=\fsz{7.2}] (kdy-t) at (935,232) {kim, do yun};
    \node[lbl,font=\fsz{7.2}] (kuen-t) at (827,236) {kuen, jihyeon};
    \node[lbl,font=\fsz{7.2}] (liuq-t) at (883,256) {liu, qin};
    \node[lbl,font=\fsz{7.2}] (suhg-t) at (821,265) {suh, gee young};
    \node[lbl,font=\fsz{9}] (mcew-t) at (901,269) {mcewan, alistair lee};
    \node[faded,font=\fsz{7.2}] (cho-t) at (960,275) {cho, young};
    \node[lbl,font=\fsz{7.2}] (chun-t) at (829,283) {chung, chi ryang};
    \node[lbl,font=\fsz{8.4}] (eunj-t) at (918,283) {lee, eunjung};
    \node[lbl,font=\fsz{7.2}] (ayou-t) at (846,293) {ayoub, ghazal};
    \node[lbl,font=\fsz{12}] (kwon-t) at (958,185) {kwon, ohin};
    \node[lbl,font=\fsz{9.2}] (jeon-t) at (896,148) {jeong, woo chul};
    \node[lbl,font=\fsz{8}] (kran-t) at (941,166) {kranjc, matej};
    \node[lbl,font=\fsz{9.6}] (park-t) at (976,210) {park, chunjae};
    \node[lbl,font=\fsz{9.9}] (lbyu-t) at (978,229) {lee, byung il};
    \node[faded,font=\fsz{7.2}] (nam-t) at (1029,201) {nam, hyun soo};
    \node[lbl,font=\fsz{9}] (kyt-t) at (925,252) {kim, young tae};
    \node[lbl,font=\fsz{7.2}] (tuck-t) at (963,5) {tucker, don};
    \node[lbl,font=\fsz{7.2}] (ohsu-t) at (934,17) {oh, sungho};
    \node[lbl,font=\fsz{7.2}] (boru-t) at (1002,15) {borum, peggy};
    \node[lbl,font=\fsz{9.5}] (tang-t) at (982,32) {tang, t.};
    \node[lbl,font=\fsz{7.2}] (fox-t) at (996,47) {fox, robert m.};
    \node[lbl,font=\fsz{7.2}] (zhan-t) at (1021,60) {zhang, s. u.};
    \node[lbl,font=\fsz{10.1}] (sadl-t) at (952,87) {sadleir, r. j.};
    \node[lbl,font=\fsz{7.2}] (kimk-t) at (894,123) {kim, kap jin};
    \node[faded,font=\fsz{7.2}] (mare-t) at (922,45) {mares, t. h.};
    \node[lbl,font=\fsz{7.2}] (inda-t) at (903,53) {indahlastari, a.};
    \node[lbl,font=\fsz{7.2}] (kasi-t) at (897,74) {kasinadhuni, a. k.};
    \node[faded,font=\fsz{7.2}] (sohn-t) at (992,75) {sohn, sung-min};
    \node[lbl,font=\fsz{7.2}] (kand-t) at (1016,88) {kandala, sri kirthi};
    \node[lbl,font=\fsz{7.5}] (kuma-t) at (997,105) {kumar, neeta ashok};
    \node[lbl,font=\fsz{9.6}] (chau-t) at (947,117) {chauhan, m.};
    \node[lbl,font=\fsz{7.4}] (kodi-t) at (1008,133) {kodibagkar, vikram d.};
    \node[lbl,font=\fsz{10}] (soha-t) at (937,297) {sohal, harsh};
    \node[lbl,font=\fsz{7.2}] (kaur-t) at (957,317) {kaur, harkinder};
    \node[lbl,font=\fsz{7.2}] (sing-t) at (988,329) {singh, swaranjeet};
    \node[lbl,font=\fsz{7.2}] (thak-t) at (934,338) {thakur, chandni};
    \node[lbl,font=\fsz{7.2}] (agga-t) at (994,347) {aggarwal, divanshi};
    \node[faded,font=\fsz{7.2}] (tand-t) at (946,353) {tandon, priyanka};
    % C labels
    \node[lbl,font=\fsz{11}] (ariz-t) at (413,399) {arizona state univ};
    \node[lbl,font=\fsz{14.6}] (konk-t) at (394,432) {konkuk univ};
    \node[faded,font=\fsz{12}] (inst-t) at (323,437) {indian inst sci};
    \node[lbl,font=\fsz{10.5}] (jozf-t) at (368,452) {jozef stefan inst};
    \node[lbl,font=\fsz{18.3}] (kyun-t) at (403,474) {kyung hee univ};
    \node[lbl,font=\fsz{11}] (furt-t) at (506,420) {furtwangen univ};
    \node[lbl,font=\fsz{14.3}] (four-t) at (517,446) {fourth mil med univ};
    \node[lbl,font=\fsz{9.5}] (tela-t) at (492,486) {tel aviv univ};
    \node[faded,font=\fsz{10}] (uclh-t) at (483,504) {univ coll london hosp};
    \node[lbl,font=\fsz{18.4}] (ucl-t) at (450,519) {ucl};
    \node[lbl,font=\fsz{10.4}] (emor-t) at (514,521) {emory univ};
    \node[faded,font=\fsz{10}] (west-t) at (363,497) {westmead hosp};
    \node[lbl,font=\fsz{13.2}] (syd-t) at (373,520) {univ sydney};
    \node[faded,font=\fsz{10}] (bolo-t) at (362,547) {univ bologna};
    \node[faded,font=\fsz{10}] (rch-t) at (473,544) {royal childrens hosp};
    \node[lbl,font=\fsz{15}] (midd-t) at (443,556) {middlesex univ};
    \node[faded,font=\fsz{10}] (oulu-t) at (502,567) {univ oulu};
    \node[faded,font=\fsz{10}] (schl-t) at (471,584) {univ med ctr schleswig holstei};
    \node[lbl,font=\fsz{9.8}] (sout-t) at (423,605) {univ coll southeast norway};
    \node[lbl,font=\fsz{10.6}] (natl-t) at (279,497) {natl univ def technol};
    \node[lbl,font=\fsz{11.3}] (shef-t) at (257,512) {univ sheffield};
    \node[lbl,font=\fsz{11}] (bath-t) at (322,536) {univ bath};
    \node[faded,font=\fsz{10}] (shah-t) at (259,556) {shahed univ};
    \node[lbl,font=\fsz{10.3}] (shar-t) at (286,568) {sharif univ technol};
    \node[lbl,font=\fsz{10.5}] (maza-t) at (267,581) {mazandaran univ med sci};
    \node[lbl,font=\fsz{10.3}] (ipm-t) at (273,600) {inst res fundamental sci ipm};
    \node[faded,font=\fsz{10}] (texa-t) at (275,608) {texas state univ};
    \node[lbl,font=\fsz{10.3}] (usci-t) at (674,472) {univ sci \& technol china};
    \node[faded,font=\fsz{10.5}] (chon-t) at (694,486) {chongqing univ posts \& telecom};
    \node[faded,font=\fsz{10.5}] (mide-t) at (600,493) {middle east tech univ};
    \node[lbl,font=\fsz{13.5}] (chin-t) at (667,505) {chinese acad sci};
    \node[faded,font=\fsz{11.5}] (ucas-t) at (662,529) {univ chinese acad sci};
    \node[lbl,font=\fsz{10.3}] (gott-t) at (633,547) {univ gottingen};
    \node[lbl,font=\fsz{12.4}] (aalt-t) at (561,540) {aalto univ};
    \node[faded,font=\fsz{9.5}] (hel-t) at (548,551) {univ helsinki};
    \node[lbl,font=\fsz{12}] (kuop-t) at (557,572) {univ kuopio};
    \node[lbl,font=\fsz{9.6}] (numc-t) at (588,593) {numcore ltd};
    \node[lbl,font=\fsz{13}] (carl-t) at (527,613) {carleton univ};
    \node[lbl,font=\fsz{10}] (otta-t) at (544,637) {univ ottawa};
    \node[lbl,font=\fsz{13.5}] (tian-t) at (742,524) {tianjin univ};
    \node[faded,font=\fsz{9.5}] (nanj-t) at (812,516) {nanjing univ aeronaut \& astron};
    \node[lbl,font=\fsz{11}] (jeju-t) at (849,474) {jeju natl univ};
    \node[lbl,font=\fsz{11}] (chib-t) at (833,496) {chiba univ};
    \node[faded,font=\fsz{10}] (xian-t) at (858,505) {xi'an univ technol};
    \node[lbl,font=\fsz{10.3}] (tpol-t) at (757,550) {tianjin polytech univ};
    \node[lbl,font=\fsz{10.6}] (dong-t) at (770,568) {donghua univ};
  \end{pgfonlayer}
\end{tikzpicture}
\end{document}
